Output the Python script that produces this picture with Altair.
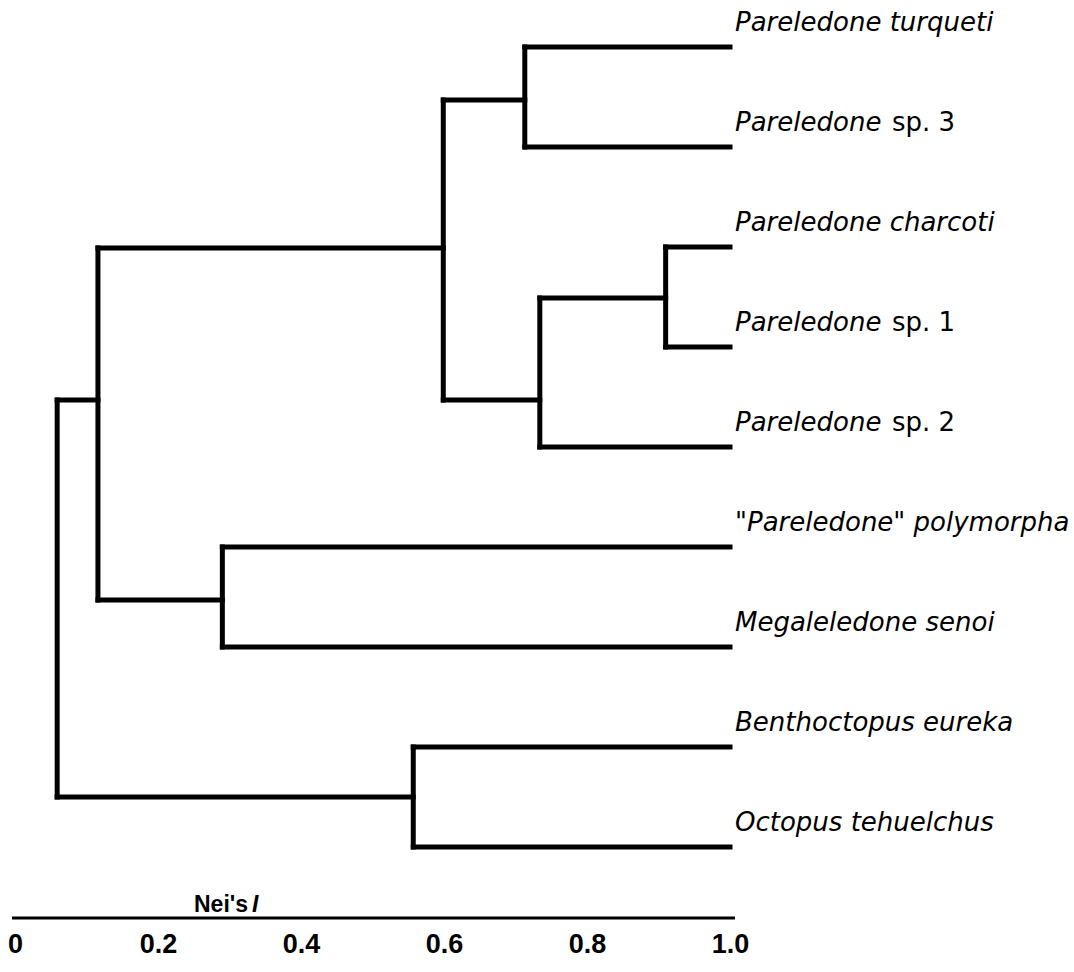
import altair as alt
import pandas as pd

# ---------------- data ----------------
# leaves (top to bottom)
LEAF_ITALIC = ["Pareledone turqueti", "Pareledone", "Pareledone charcoti", "Pareledone",
               "Pareledone", "\"Pareledone\" polymorpha", "Megaleledone senoi",
               "Benthoctopus eureka", "Octopus tehuelchus"]
LEAF_ROMAN = ["", "sp. 3", "", "sp. 1", "sp. 2", "", "", "", ""]
LEAF_ROW = [0, 1, 2, 3, 4, 5, 6, 7, 8]
LEAF_END = 1.0

# internal nodes: Nei's I at which they join, row where their branch attaches, children
NODE_ID = ["A", "B", "C", "D", "E", "F", "G", "R"]
NODE_X = [0.713, 0.910, 0.734, 0.599, 0.290, 0.116, 0.557, 0.059]
NODE_ROW = [0.53, 2.51, 3.53, 2.01, 5.53, 3.53, 7.50, None]
NODE_CHILDREN = [("L0", "L1"), ("L2", "L3"), ("B", "L4"), ("A", "C"),
                 ("L5", "L6"), ("D", "E"), ("L7", "L8"), ("F", "G")]

TICKS = [0, 0.2, 0.4, 0.6, 0.8, 1.0]

# ---------------- build segments ----------------
pos = {}
for i, r in enumerate(LEAF_ROW):
    pos[f"L{i}"] = (LEAF_END, r)
for nid, nx, nr in zip(NODE_ID, NODE_X, NODE_ROW):
    pos[nid] = (nx, nr)

segs = []
for nid, nx, (c1, c2) in zip(NODE_ID, NODE_X, NODE_CHILDREN):
    x1, r1 = pos[c1]
    x2, r2 = pos[c2]
    segs.append({"x": nx, "x2": nx, "y": r1, "y2": r2})      # vertical
    segs.append({"x": nx, "x2": x1, "y": r1, "y2": r1})      # to child 1
    segs.append({"x": nx, "x2": x2, "y": r2, "y2": r2})      # to child 2
seg_df = pd.DataFrame(segs)

lab_df = pd.DataFrame({"x": [LEAF_END] * len(LEAF_ROW), "row": LEAF_ROW,
                       "it": LEAF_ITALIC, "ro": LEAF_ROMAN})

# ---------------- layout ----------------
W, H = 1074, 930
X0_PX, X1_PX = 15, 730
span = X1_PX - X0_PX
x_scale = alt.Scale(domain=[-X0_PX / span, (W - X0_PX) / span], nice=False, zero=False)
ROW0_PX, ROW_STEP = 47, 100
y_scale = alt.Scale(domain=[-ROW0_PX / ROW_STEP, (H - ROW0_PX) / ROW_STEP],
                    nice=False, zero=False, reverse=True)

x_axis = alt.Axis(values=TICKS, labelExpr="datum.value == 0 ? '0' : format(datum.value, '.1f')",
                  domain=False, ticks=False, grid=False, title=None,
                  labelFont="Liberation Sans", labelFontWeight="bold", labelFontSize=27,
                  labelColor="black", labelPadding=1, labelFlush=False, labelOverlap=False)

tree = alt.Chart(seg_df).mark_rule(color="black", strokeWidth=5, strokeCap="square").encode(
    x=alt.X("x:Q", scale=x_scale, axis=x_axis),
    x2="x2:Q",
    y=alt.Y("y:Q", scale=y_scale, axis=None),
    y2="y2:Q",
)

FONT = "DejaVu Sans"
labels_it = alt.Chart(lab_df).mark_text(
    align="left", baseline="alphabetic", dx=5, dy=-16,
    font=FONT, fontSize=26, fontStyle="italic", color="black"
).encode(x=alt.X("x:Q", scale=x_scale), y=alt.Y("row:Q", scale=y_scale), text="it:N")

labels_ro = alt.Chart(lab_df).mark_text(
    align="left", baseline="alphabetic", dx=162, dy=-16,
    font=FONT, fontSize=26, color="black"
).encode(x=alt.X("x:Q", scale=x_scale), y=alt.Y("row:Q", scale=y_scale), text="ro:N")

one = pd.DataFrame({"k": [0]})
axis_line = alt.Chart(one).mark_rule(color="black", strokeWidth=3).encode(
    x=alt.value(12), x2=alt.value(735), y=alt.value(918))
title_a = alt.Chart(one).mark_text(
    align="left", baseline="alphabetic", font="Liberation Sans", fontWeight="bold",
    fontSize=23, color="black").encode(x=alt.value(194), y=alt.value(912), text=alt.value("Nei's"))
title_b = alt.Chart(one).mark_text(
    align="left", baseline="alphabetic", font="Liberation Sans", fontWeight="bold",
    fontStyle="italic", fontSize=23, color="black").encode(
    x=alt.value(252), y=alt.value(912), text=alt.value("I"))

chart = alt.layer(tree, labels_it, labels_ro, axis_line, title_a, title_b).properties(
    width=W, height=H,
    autosize=alt.AutoSizeParams(type="none"),
    padding={"left": 0, "top": 0, "right": 0, "bottom": 972 - H},
    background="white",
).configure_view(stroke=None)

chart.save("out.html", embed_options={"renderer": "svg", "actions": False})
